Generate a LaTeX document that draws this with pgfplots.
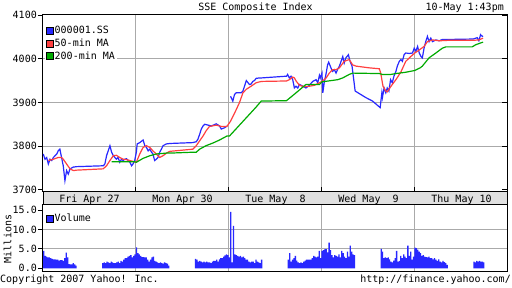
\documentclass[border=0pt]{standalone}
\usepackage{fontspec}
\setmainfont{DejaVu Sans Mono}
\usepackage{pgfplots}
\usepackage{pgfplotstable}
\pgfplotsset{compat=1.18}
\definecolor{yblue}{RGB}{40,40,255}
\definecolor{yred}{RGB}{255,64,64}
\definecolor{ygreen}{RGB}{0,170,0}
\definecolor{ygrid}{RGB}{170,170,170}
\definecolor{yband}{RGB}{224,224,224}

\pgfplotstableread{
x y
1 3782
7 3770
13 3774
19 3759
25 3770
31 3767
37 3774
43 3778
49 3782
54 3789
60 3793
66 3774
72 3755
78 3721
84 3744
90 3736
96 3748
108 3752
120 3753
214 3755
220 3759
226 3778
238 3801
244 3786
250 3778
261 3770
267 3774
273 3763
279 3770
285 3767
291 3770
297 3771
309 3763
315 3755
320 3759
326 3767
332 3786
335 3805
344 3808
356 3814
362 3801
368 3797
374 3789
380 3793
386 3786
391 3782
397 3767
403 3770
409 3774
415 3786
421 3793
427 3801
439 3805
451 3806
532 3808
545 3810
551 3816
557 3827
563 3839
569 3846
575 3850
587 3848
599 3846
616 3851
628 3846
634 3839
646 3842
654 3846
660 nan
667 3914
675 3903
681 3918
687 3922
705 3922
711 3926
723 3950
729 3945
734 3941
740 3942
746 3948
752 3950
758 3955
770 3956
777 3956
866 3960
870 3964
876 3956
882 3960
888 3952
894 3933
900 3937
906 3933
912 3941
924 3937
935 3933
947 3939
959 3948
971 3952
977 3945
983 3962
986 3956
992 3967
995 3922
1000 3945
1007 3967
1012 3986
1016 3992
1024 3979
1030 3971
1036 3975
1042 3967
1048 3976
1054 3983
1066 4005
1071 3990
1077 4002
1086 4009
1092 3994
1099 3983
1110 3926
1148 3911
1172 3903
1199 3888
1205 3922
1207 3911
1213 3933
1219 3922
1224 3933
1230 3926
1236 3952
1242 3945
1248 3960
1255 3971
1260 3983
1267 3994
1273 3998
1278 3994
1284 4009
1290 4013
1302 4012
1314 4013
1320 4024
1326 4017
1332 4028
1338 4013
1344 4005
1349 4002
1355 4024
1361 4039
1367 4051
1373 4039
1379 4047
1385 4039
1397 4043
1409 4041
1420 4044
1440 4044
1530 4045
1539 4047
1544 4048
1550 4041
1556 4055
1562 4051
1565 4052
}\pricetab

\pgfplotstableread{
x y
19 3767
37 3770
54 3774
66 3774
72 3770
84 3759
96 3748
108 3744
120 3745
214 3748
226 3755
238 3767
250 3778
261 3779
273 3774
285 3770
297 3769
309 3767
320 3765
326 3764
332 3763
344 3782
356 3797
368 3801
380 3797
391 3789
403 3782
415 3774
427 3778
439 3784
451 3788
533 3793
545 3801
557 3812
569 3823
580 3835
592 3845
616 3848
634 3845
654 3845
667 3857
681 3875
699 3900
711 3922
723 3930
740 3937
758 3945
770 3947
777 3948
866 3949
876 3952
888 3958
894 3956
900 3949
912 3939
930 3936
947 3937
965 3939
983 3945
992 3948
1007 3956
1018 3967
1030 3975
1042 3975
1054 3979
1071 3994
1089 3998
1101 3986
1113 3983
1161 3979
1196 3977
1201 3967
1209 3937
1219 3926
1224 3924
1230 3930
1242 3941
1255 3952
1273 3970
1290 3994
1308 4005
1322 4013
1338 4020
1355 4028
1367 4039
1385 4043
1409 4041
1440 4042
1530 4042
1550 4043
1565 4047
}\matab

\pgfplotstableread{
x y
244 3764
326 3764
332 3763
356 3772
380 3778
403 3782
439 3784
451 3784
533 3786
545 3786
557 3793
580 3801
604 3807
628 3814
654 3823
663 3823
756 3888
776 3903
866 3904
900 3922
935 3941
983 3941
992 3947
1048 3952
1066 3956
1089 3964
1101 3967
1196 3966
1207 3964
1237 3964
1255 3966
1290 3969
1322 3973
1341 3979
1349 3983
1373 4002
1397 4013
1420 4024
1432 4027
1440 4027
1526 4027
1539 4032
1565 4038
}\mbtab

\pgfplotstableread{
x y
2.5 4.5
7.5 3.2
12.5 3.0
17.5 2.8
22.5 2.8
27.5 2.6
32.5 2.4
37.5 2.3
42.5 2.3
47.5 2.2
52.5 2.2
57.5 2.0
62.5 2.1
67.5 2.1
72.5 1.9
77.5 2.6
82.5 4.0
87.5 2.8
92.5 1.1
97.5 1.0
102.5 1.0
107.5 1.3
112.5 1.0
117.5 0.7
212.5 1.3
217.5 1.5
222.5 1.3
227.5 1.7
232.5 1.5
237.5 1.3
242.5 1.7
247.5 1.5
252.5 1.3
257.5 1.3
262.5 1.5
267.5 1.7
272.5 1.3
277.5 1.9
282.5 1.7
287.5 2.2
292.5 2.6
297.5 2.6
302.5 3.0
307.5 3.2
312.5 3.4
317.5 2.8
322.5 3.2
327.5 3.6
332.5 5.4
337.5 3.9
342.5 3.6
347.5 3.2
352.5 2.9
357.5 2.9
362.5 2.8
367.5 2.8
372.5 2.2
377.5 1.7
382.5 2.2
387.5 2.8
392.5 3.0
397.5 1.9
402.5 1.7
407.5 1.5
412.5 1.3
417.5 1.5
422.5 1.3
427.5 1.2
432.5 1.5
437.5 1.3
442.5 1.2
447.5 0.7
542.5 2.4
547.5 2.2
552.5 1.7
557.5 1.9
562.5 1.7
567.5 1.5
572.5 1.7
577.5 1.5
582.5 1.7
587.5 1.5
592.5 1.5
597.5 1.3
602.5 1.7
607.5 1.9
612.5 1.9
617.5 2.2
622.5 1.7
627.5 2.3
632.5 2.6
637.5 2.6
642.5 3.0
647.5 3.3
652.5 3.6
657.5 3.4
662.5 2.8
667.5 14.5
672.5 1.5
677.5 10.9
682.5 3.6
687.5 3.4
692.5 3.2
697.5 3.0
702.5 3.2
707.5 2.8
712.5 3.0
717.5 2.6
722.5 2.2
727.5 2.2
732.5 1.7
737.5 1.5
742.5 1.7
747.5 1.7
752.5 1.3
757.5 2.2
762.5 1.7
767.5 1.5
772.5 1.3
777.5 2.2
872.5 2.2
877.5 3.9
882.5 1.7
887.5 2.2
892.5 2.6
897.5 3.2
902.5 2.0
907.5 1.5
912.5 1.3
917.5 1.5
922.5 1.3
927.5 1.7
932.5 2.0
937.5 2.2
942.5 2.2
947.5 2.2
952.5 2.2
957.5 2.6
962.5 3.2
967.5 3.0
972.5 2.8
977.5 3.0
982.5 4.5
987.5 2.6
992.5 4.5
997.5 4.7
1002.5 4.9
1007.5 4.9
1012.5 4.1
1017.5 6.6
1022.5 4.7
1027.5 3.4
1032.5 2.8
1037.5 3.4
1042.5 3.2
1047.5 3.0
1052.5 3.6
1057.5 2.8
1062.5 4.5
1067.5 3.9
1072.5 3.0
1077.5 2.6
1082.5 4.3
1087.5 3.0
1092.5 5.8
1097.5 4.3
1102.5 3.6
1107.5 3.4
1202.5 5.0
1207.5 4.3
1212.5 2.6
1217.5 2.8
1222.5 2.6
1227.5 2.8
1232.5 2.3
1237.5 1.7
1242.5 1.5
1247.5 2.0
1252.5 2.6
1257.5 4.5
1262.5 1.7
1267.5 1.9
1272.5 3.2
1277.5 2.6
1282.5 3.6
1287.5 3.0
1292.5 2.6
1297.5 5.8
1302.5 3.2
1307.5 4.3
1312.5 2.2
1317.5 3.0
1322.5 5.3
1327.5 5.2
1332.5 4.8
1337.5 4.3
1342.5 3.9
1347.5 3.2
1352.5 3.4
1357.5 3.0
1362.5 2.9
1367.5 2.8
1372.5 3.0
1377.5 2.6
1382.5 2.6
1387.5 2.3
1392.5 2.6
1397.5 2.2
1402.5 1.9
1407.5 2.3
1412.5 1.7
1417.5 1.5
1422.5 1.9
1427.5 1.6
1432.5 1.3
1437.5 0.9
1532.5 1.7
1537.5 1.5
1542.5 1.9
1547.5 1.7
1552.5 1.9
1557.5 1.7
1562.5 1.7
1567.5 1.5
}\voltab

\pgfplotsset{
  yleg/.style={
    legend style={at={(0,1)}, anchor=north west, draw=none, fill=white,
      inner xsep=1pt, inner ysep=3pt, xshift=2pt, yshift=#1,
      row sep=0pt, font=\normalsize,
      nodes={inner xsep=1pt, inner ysep=1.3pt, text height=8pt, text depth=2pt}},
    legend cell align=left,
    legend image code/.code={\draw[##1, fill, draw=black, line width=0.5pt] (0pt,-3.5pt) rectangle (7pt,3.5pt);},
  },
}

\begin{document}
\begin{tikzpicture}
\path[use as bounding box] (0pt,0pt) rectangle (512pt,288pt);
\fill[yband] (43pt,83pt) rectangle (507pt,96pt);
\draw[line width=1pt] (43pt,83pt) -- (43pt,96pt) (507pt,83pt) -- (507pt,96pt);

\begin{axis}[
  at={(43pt,96pt)}, anchor=south west, width=464pt, height=177pt, scale only axis,
  xmin=0, xmax=1650, ymin=3695, ymax=4100,
  xtick={330,660,990,1320}, xticklabels={}, xtick pos=bottom, xtick align=inside,
  xmajorgrids, ymajorgrids,
  ytick={3800,3900,4000}, yticklabels={3800,3900,4000},
  extra y ticks={3700,4100}, extra y tick labels={3700,\raisebox{-5pt}{4100}},
  extra y tick style={grid=none},
  ytick pos=left, ytick align=outside, major tick length=5pt,
  grid style={color=ygrid, line width=0.9pt},
  axis line style={line width=1pt},
  tick style={black, line width=0.8pt},
  yticklabel style={inner sep=1pt},
  unbounded coords=jump,
  yleg=-6.5pt,
]
\addplot[color=yblue, line width=1.2pt] table {\pricetab};
\addlegendentry{000001.SS}
\addplot[color=yred, line width=1.2pt] table {\matab};
\addlegendentry{50-min MA}
\addplot[color=ygreen, line width=1.2pt] table {\mbtab};
\addlegendentry{200-min MA}
\end{axis}

\begin{axis}[
  at={(43pt,96pt)}, anchor=south west, width=464pt, height=177pt, scale only axis,
  xmin=0, xmax=1650, ymin=3695, ymax=4100,
  axis line style={draw=none}, xtick=\empty,
  ytick={3700,3800,3900,4000,4100}, yticklabels={},
  ytick pos=right, ytick align=inside, major tick length=5pt,
  tick style={black, line width=0.8pt},
]
\end{axis}

\begin{axis}[
  at={(43pt,16.7pt)}, anchor=south west, width=464pt, height=66.3pt, scale only axis,
  xmin=0, xmax=1650, ymin=-0.77, ymax=16.27,
  xtick={330,660,990,1320}, xticklabels={}, xtick pos=bottom, xtick align=inside,
  major x tick style={draw=none},
  xmajorgrids, ymajorgrids,
  ytick={5,10}, yticklabels={5.0,10.0},
  extra y ticks={0,15}, extra y tick labels={0.0,15.0},
  extra y tick style={grid=none},
  ytick pos=left, ytick align=outside, major tick length=5pt,
  grid style={color=ygrid, line width=0.9pt},
  axis line style={line width=1pt},
  tick style={black, line width=0.8pt},
  yticklabel style={inner sep=1pt},
  ybar, bar width=4.6,
  yleg=-4pt,
]
\addplot[fill=yblue, draw=none] table {\voltab};
\addlegendentry{Volume}
\end{axis}

\node[anchor=base] at (255.5pt,277pt) {SSE Composite Index};
\node[anchor=base east, inner sep=0pt] at (504pt,277pt) {10-May 1:43pm};
\node[anchor=base] at (89.5pt,85.7pt) {Fri Apr 27};
\node[anchor=base] at (182.5pt,85.7pt) {Mon Apr 30};
\node[anchor=base] at (275.5pt,85.7pt) {Tue May~~8};
\node[anchor=base] at (368.5pt,85.7pt) {Wed May~~9};
\node[anchor=base] at (461.5pt,85.7pt) {Thu May 10};
\node[rotate=90, anchor=center] at (7.5pt,49pt) {Millions};
\node[anchor=base west, inner sep=0pt] at (0pt,5.7pt) {Copyright 2007 Yahoo! Inc.};
\node[anchor=base east, inner sep=0pt] at (511pt,5pt) {http://finance.yahoo.com/};
\end{tikzpicture}
\end{document}
